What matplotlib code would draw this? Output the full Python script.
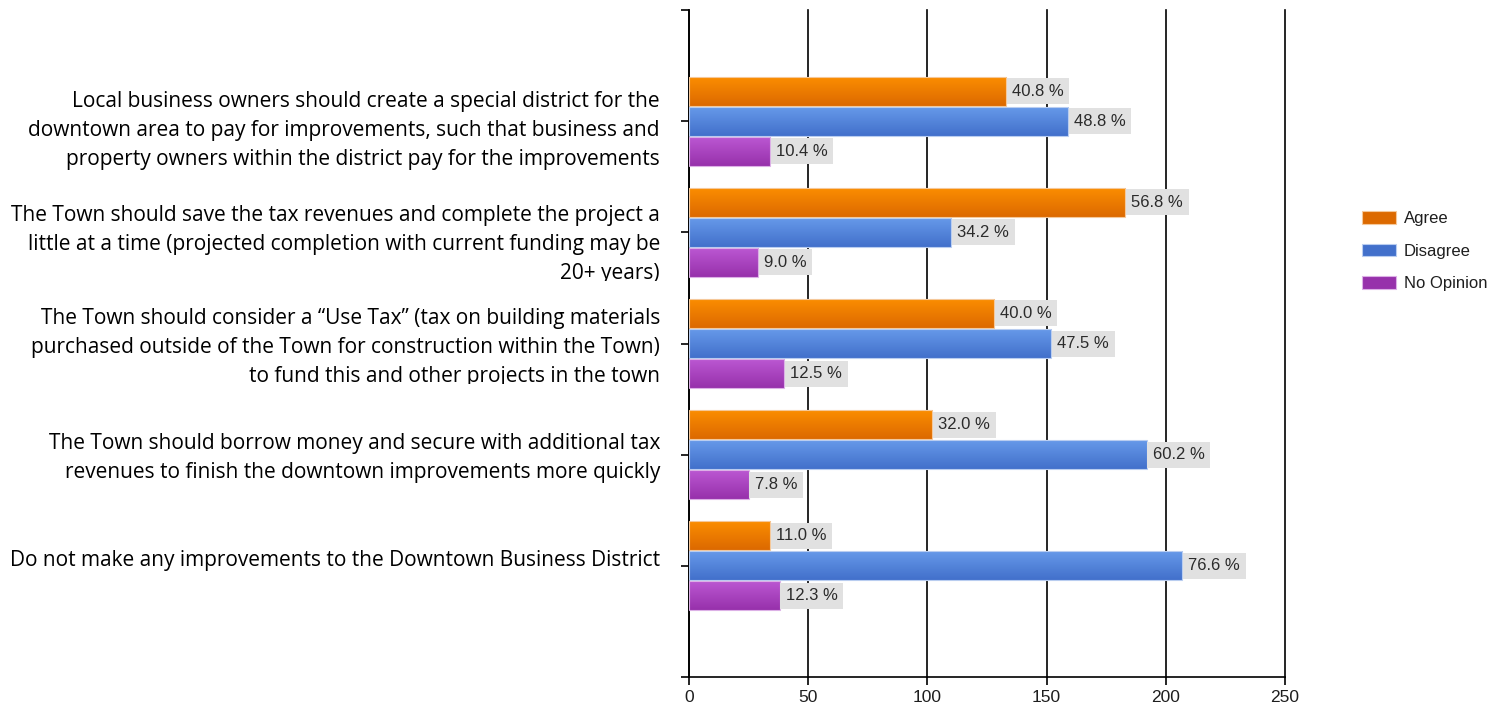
import numpy as np
import matplotlib.pyplot as plt
from matplotlib import transforms
from matplotlib.colors import LinearSegmentedColormap
from matplotlib.patches import Patch

# survey statements, top to bottom
questions = [
    "Local business owners should create a special district for the\n"
    "downtown area to pay for improvements, such that business and\n"
    "property owners within the district pay for the improvements",
    "The Town should save the tax revenues and complete the project a\n"
    "little at a time (projected completion with current funding may be\n"
    "20+ years)",
    "The Town should consider a \u201cUse Tax\u201d (tax on building materials\n"
    "purchased outside of the Town for construction within the Town)\n"
    "to fund this and other projects in the town",
    "The Town should borrow money and secure with additional tax\n"
    "revenues to finish the downtown improvements more quickly",
    "Do not make any improvements to the Downtown Business District",
]

series = ["Agree", "Disagree", "No Opinion"]

# response counts
agree = [133, 183, 128, 102, 34]
disagree = [159, 110, 152, 192, 207]
no_opinion = [34, 29, 40, 25, 38]

# share of responses shown next to each bar
agree_pct = [40.8, 56.8, 40.0, 32.0, 11.0]
disagree_pct = [48.8, 34.2, 47.5, 60.2, 76.6]
no_opinion_pct = [10.4, 9.0, 12.5, 7.8, 12.3]

x_ticks = [0, 50, 100, 150, 200, 250]

# (top, bottom) gradient colours per series
shades = [("#fb8d00", "#dc6900"), ("#6699e9", "#4270cb"), ("#bb57d2", "#9731ab")]
edges = ["#f5c89a", "#b9cdf0", "#dcb0e6"]

# vertical nudge (px) for the statement text, and where the label box cuts it off
label_shift = [9, 12, 4, 3, -5]
label_cut = [None, 37, 36, None, None]

W, H, DPI = 1507, 709, 100
fig = plt.figure(figsize=(W / DPI, H / DPI), dpi=DPI)
ax = fig.add_axes([689 / W, 32 / H, 596 / W, 667 / H])

y = np.arange(len(questions))
bar_h = 0.26
offsets = [-0.27, 0.0, 0.27]
values = [agree, disagree, no_opinion]
pcts = [agree_pct, disagree_pct, no_opinion_pct]

grad = np.linspace(0, 1, 64).reshape(-1, 1)
box_font = dict(family=["Liberation Sans", "DejaVu Sans"], size=12)

for vals, pct, off, (c_top, c_bot), edge in zip(values, pcts, offsets, shades, edges):
    cmap = LinearSegmentedColormap.from_list("g", [c_top, c_bot])
    bars = ax.barh(y + off, vals, height=bar_h, facecolor="none",
                   edgecolor=edge, linewidth=0.8, zorder=4)
    for rect, p in zip(bars, pct):
        x0, y0 = rect.get_xy()
        w, h = rect.get_width(), rect.get_height()
        ax.imshow(grad, cmap=cmap, aspect="auto", zorder=3,
                  extent=(x0, x0 + w, y0 + h, y0), interpolation="bilinear")
        # grey value box right after the bar
        shift = transforms.ScaledTranslation(6 / DPI, 0, fig.dpi_scale_trans)
        ax.text(x0 + w, y0 + h / 2, f"{p:.1f} %", ha="left", va="center",
                color="#2b2b2b", zorder=5, transform=ax.transData + shift,
                bbox=dict(boxstyle="square,pad=0.33", fc="#e1e1e1", ec="none"),
                **box_font)

ax.set_xlim(0, 250)
ax.set_ylim(5, -1)
ax.set_aspect("auto")

ax.set_xticks(x_ticks)
ax.set_xticklabels([str(t) for t in x_ticks], color="#1e1e1e",
                   family=["Liberation Sans", "DejaVu Sans"], size=12.5)
ax.set_yticks(range(-1, 6))
ax.set_yticklabels([])
ax.tick_params(axis="both", direction="out", length=6, width=1.2, color="black")
ax.tick_params(axis="x", pad=3)

ax.grid(axis="x", color="black", linewidth=1.2, zorder=0)
ax.grid(axis="y", visible=False)
for gl in ax.get_xgridlines():
    gl.set_clip_on(False)
ax.set_axisbelow(True)
for side in ("top", "right"):
    ax.spines[side].set_visible(False)
for side in ("left", "bottom"):
    ax.spines[side].set_linewidth(1.2)
    ax.spines[side].set_color("black")

# statements to the left of the axis
base = transforms.blended_transform_factory(ax.transAxes, ax.transData)
for yi, text, dy, cut in zip(y, questions, label_shift, label_cut):
    tr = base + transforms.ScaledTranslation(-29 / DPI, -dy / DPI, fig.dpi_scale_trans)
    t = ax.text(0, yi, text, ha="right", va="center", multialignment="right",
                transform=tr, family=["Open Sans", "DejaVu Sans"], size=15,
                linespacing=1.5, color="black")
    if cut is not None:
        cy = tr.transform((0, yi))[1]
        t.set_clip_box(transforms.Bbox([[0, cy - cut], [W, H]]))
        t.set_clip_on(True)

handles = [Patch(facecolor=c_bot, edgecolor=e, linewidth=0.8)
           for (c_top, c_bot), e in zip(shades, edges)]
fig.legend(handles, series, loc="upper left",
           bbox_to_anchor=(1354 / W, 1 - 203 / H), frameon=False,
           borderpad=0, handlelength=2.0, handleheight=0.75,
           handletextpad=0.5, labelspacing=1.05,
           prop=dict(family=["Liberation Sans", "DejaVu Sans"], size=12),
           labelcolor="#1e1e1e")

fig.savefig("out.png", dpi=DPI)
